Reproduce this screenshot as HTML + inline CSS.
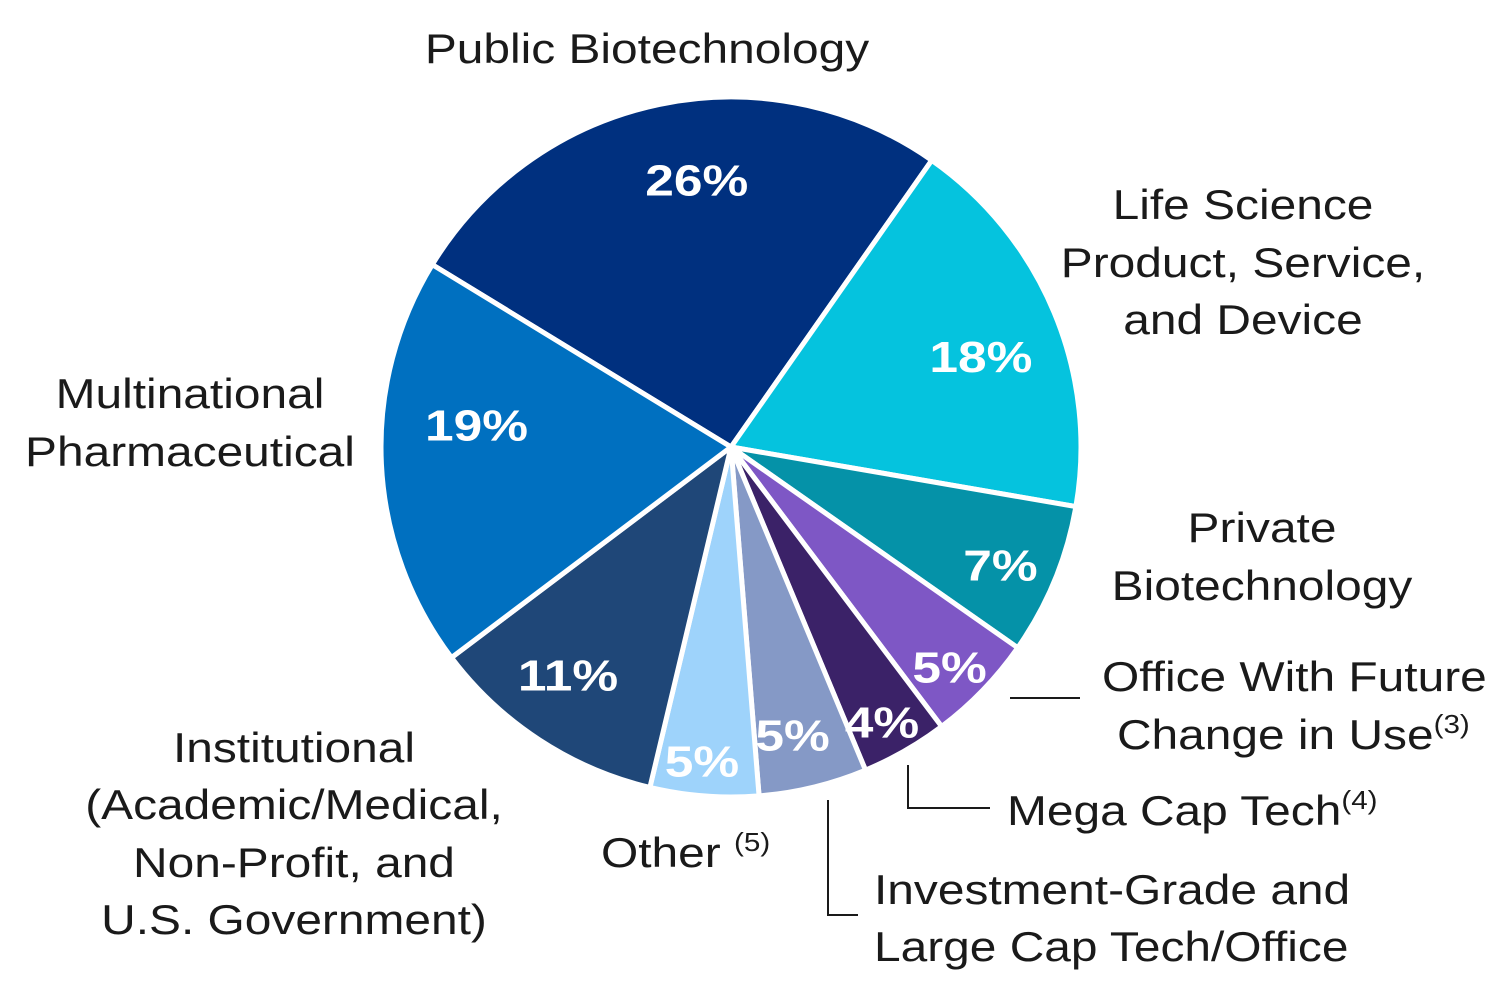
<!DOCTYPE html>
<html><head><meta charset="utf-8"><style>
html,body{margin:0;padding:0;background:#fff;}
svg{display:block;font-family:"Liberation Sans",Arial,sans-serif;}
.lbl{font-size:42px;fill:#1a1a1a;}
.pct{font-size:44px;font-weight:bold;fill:#fff;}
</style></head><body>
<svg id="chart" width="1500" height="992" viewBox="0 0 1500 992">
<g id="slices"></g>
<g id="pcts"></g>
<g>
<text class="lbl" x="647" y="63" text-anchor="middle">Public Biotechnology</text>
<text class="lbl" x="1243" y="219" text-anchor="middle"><tspan x="1243">Life Science</tspan><tspan x="1243" dy="58">Product, Service,</tspan><tspan x="1243" dy="57">and Device</tspan></text>
<text class="lbl" x="1262" y="542" text-anchor="middle"><tspan x="1262">Private</tspan><tspan x="1262" dy="58">Biotechnology</tspan></text>
<text class="lbl" x="1102" y="691">Office With Future</text>
<text class="lbl" x="1117" y="749">Change in Use<tspan font-size="26" dy="-16">(3)</tspan></text>
<text class="lbl" x="1007" y="825">Mega Cap Tech<tspan font-size="26" dy="-16">(4)</tspan></text>
<text class="lbl" x="874" y="904"><tspan x="874">Investment-Grade and</tspan><tspan x="874" dy="57">Large Cap Tech/Office</tspan></text>
<text class="lbl" x="601" y="867">Other <tspan font-size="26" dy="-16">(5)</tspan></text>
<text class="lbl" x="294" y="762" text-anchor="middle"><tspan x="294">Institutional</tspan><tspan x="294" dy="57">(Academic/Medical,</tspan><tspan x="294" dy="58">Non-Profit, and</tspan><tspan x="294" dy="57">U.S. Government)</tspan></text>
<text class="lbl" x="190" y="408" text-anchor="middle"><tspan x="190">Multinational</tspan><tspan x="190" dy="58">Pharmaceutical</tspan></text>
</g>
<g stroke="#1a1a1a" stroke-width="2" fill="none">
<polyline points="1010,698 1080,698"/>
<polyline points="908,765 908,808 990,808"/>
<polyline points="828,800 828,915 858,915"/>
</g>
</svg>
<script>
const categories=["Public Biotechnology","Life Science Product, Service, and Device","Private Biotechnology","Office With Future Change in Use","Mega Cap Tech","Investment-Grade and Large Cap Tech/Office","Other","Institutional","Multinational Pharmaceutical"];
const values=[26,18,7,5,4,5,5,11,19];
const labels=["26%","18%","7%","5%","4%","5%","5%","11%","19%"];
const colors=["#00307f","#05c3de","#0592a8","#7e57c5","#3b2268","#8599c6","#9ed3fb","#1f4778","#0070c0"];
const labelAngleOffset=[4.5,2.6,1.2,1.1,1.0,1.5,0.9,2.4,7.9];
const labelRadiusFrac=[0.77,0.76,0.84,0.885,0.895,0.84,0.9,0.8,0.73];
const cx=731,cy=447,R=350,start=-58.6;
const NS="http://www.w3.org/2000/svg";
const total=values.reduce((a,b)=>a+b,0);
function pt(deg,r){const a=deg*Math.PI/180;return [cx+r*Math.sin(a),cy-r*Math.cos(a)];}
let ang=start;
const sg=document.getElementById('slices'),pg=document.getElementById('pcts');
values.forEach((v,i)=>{
  const sweep=v/total*360,a0=ang,a1=ang+sweep;ang=a1;
  const p0=pt(a0,R),p1=pt(a1,R);
  const path=document.createElementNS(NS,'path');
  path.setAttribute('d',`M${cx},${cy} L${p0[0]},${p0[1]} A${R},${R} 0 ${sweep>180?1:0} 1 ${p1[0]},${p1[1]} Z`);
  path.setAttribute('fill',colors[i]);path.setAttribute('stroke','#fff');path.setAttribute('stroke-width','5');path.setAttribute('stroke-linejoin','round');
  
  
  sg.appendChild(path);
  const m=pt((a0+a1)/2+labelAngleOffset[i],R*labelRadiusFrac[i]);
  const t=document.createElementNS(NS,'text');
  t.setAttribute('class','pct');t.setAttribute('x',m[0]);t.setAttribute('y',m[1]+16);t.setAttribute('text-anchor','middle');
  t.textContent=labels[i];
  
  
  pg.appendChild(t);
});
function stretch(sel,s){
  document.querySelectorAll(sel).forEach(el=>{
    const x=parseFloat(el.getAttribute('x'));
    el.setAttribute('transform',`translate(${x},0) scale(${s},1) translate(${-x},0)`);
  });
}
stretch('.lbl',1.14);
stretch('.pct',1.17);
</script>
</body></html>
